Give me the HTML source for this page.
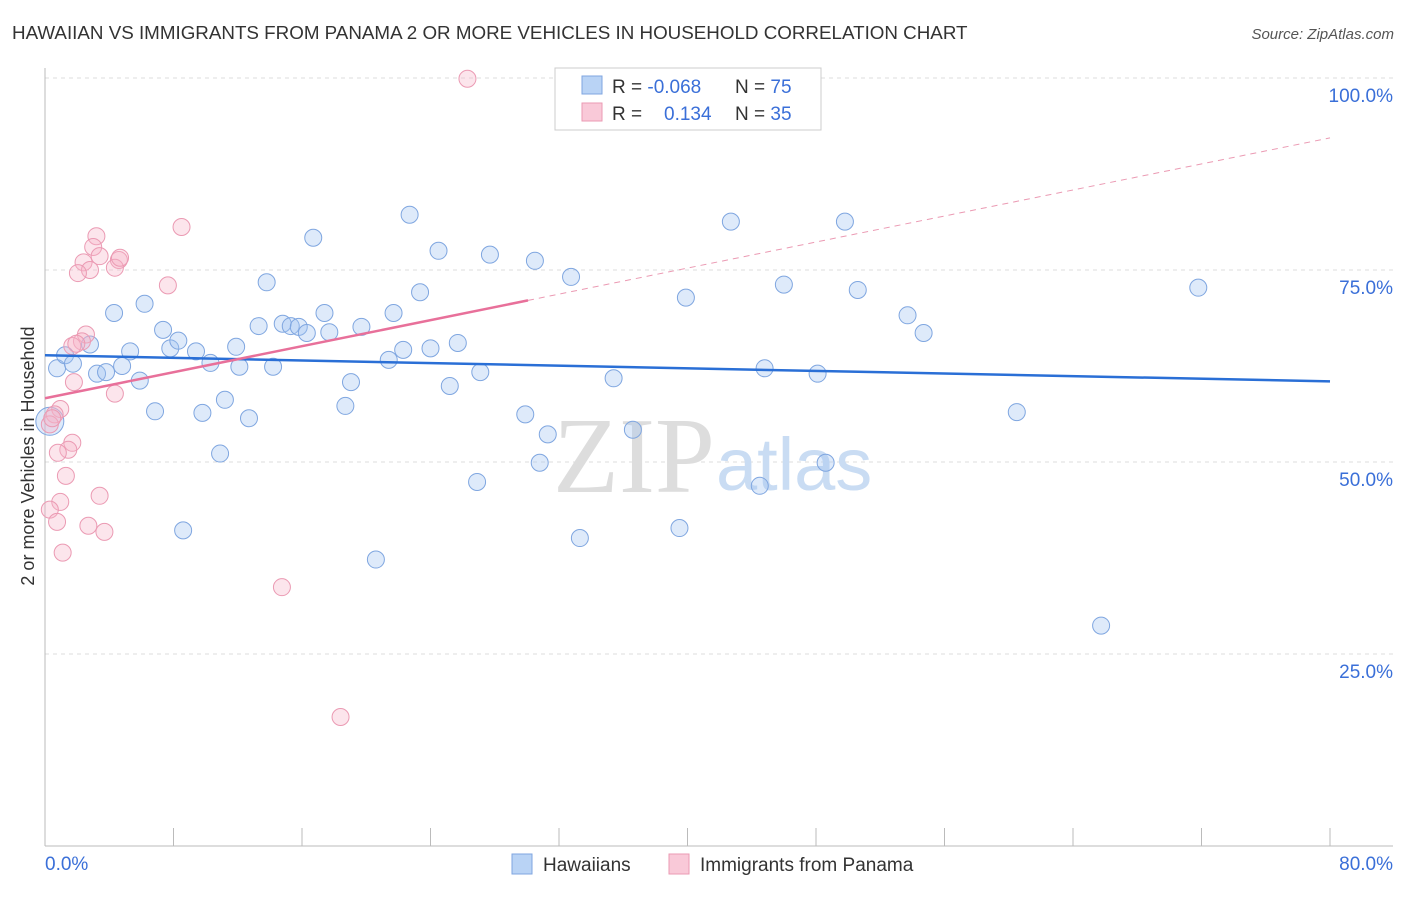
<!DOCTYPE html>
<html><head><meta charset="utf-8"><style>
body{margin:0;background:#fff;font-family:"Liberation Sans",sans-serif}
</style></head><body>
<svg width="1406" height="892" viewBox="0 0 1406 892" xmlns="http://www.w3.org/2000/svg">
<text x="12" y="39" font-size="18.8" fill="#333">HAWAIIAN VS IMMIGRANTS FROM PANAMA 2 OR MORE VEHICLES IN HOUSEHOLD CORRELATION CHART</text>
<text x="1394" y="39" font-size="15" fill="#555" font-style="italic" text-anchor="end">Source: ZipAtlas.com</text>
<g id="grid"></g>
<text x="715" y="492" font-size="108" fill="#ddd" text-anchor="end" font-family="Liberation Serif">ZIP</text>
<text x="716" y="490" font-size="74" fill="#c9dcf3">atlas</text>
<g id="pts"></g>
<g id="lines"></g>
<text transform="translate(34,456) rotate(-90)" font-size="18" fill="#333" text-anchor="middle">2 or more Vehicles in Household</text>
<text x="45" y="870" font-size="19" fill="#3a6fd8">0.0%</text>
<text x="1393" y="870" font-size="19" fill="#3a6fd8" text-anchor="end">80.0%</text>
<g>
<rect x="555" y="68" width="266" height="62" fill="#fff" stroke="#ccc"/>
<rect x="582" y="76" width="20" height="18" fill="#b9d3f5" stroke="#7fa6e0"/>
<rect x="582" y="103" width="20" height="18" fill="#f9c9d8" stroke="#eb9ab3"/>
<text x="612" y="93" font-size="19" fill="#333">R = <tspan fill="#3a6fd8">-0.068</tspan></text>
<text x="735" y="93" font-size="19" fill="#333">N = <tspan fill="#3a6fd8">75</tspan></text>
<text x="612" y="120" font-size="19" fill="#333">R = <tspan fill="#3a6fd8" x="664">0.134</tspan></text>
<text x="735" y="120" font-size="19" fill="#333">N = <tspan fill="#3a6fd8">35</tspan></text>
</g>
<g>
<rect x="512" y="854" width="20" height="20" fill="#b9d3f5" stroke="#7fa6e0"/>
<text x="543" y="871" font-size="19" fill="#333">Hawaiians</text>
<rect x="669" y="854" width="20" height="20" fill="#f9c9d8" stroke="#eb9ab3"/>
<text x="700" y="871" font-size="19" fill="#333">Immigrants from Panama</text>
</g>
</svg>
<script>
const yTicks=[25,50,75,100];
const yTickLabels=["25.0%","50.0%","75.0%","100.0%"];
const xTicks=[0,8,16,24,32,40,48,56,64,72,80];
const blueX=[0.75,1.25,1.74,2.8,3.24,3.8,4.3,4.8,5.3,5.9,6.2,6.85,7.35,7.8,8.3,8.6,9.4,9.8,10.3,10.9,11.2,11.9,12.1,12.7,13.3,13.8,14.2,14.8,15.3,15.8,16.3,16.7,17.4,17.7,18.7,19.05,19.7,20.6,21.4,21.7,22.3,22.7,23.35,24.0,24.5,25.2,25.7,27.1,26.9,27.7,29.9,30.5,30.8,31.3,32.75,33.3,35.4,36.6,39.5,39.9,42.7,44.5,44.8,46.0,48.1,48.6,49.8,50.6,53.7,54.7,60.5,65.75,71.8,0.3];
const blueY=[62.2,63.9,62.8,65.3,61.5,61.7,69.4,62.5,64.4,60.6,70.6,56.6,67.2,64.8,65.8,41.1,64.4,56.4,62.9,51.1,58.1,65.0,62.4,55.7,67.7,73.4,62.4,68.0,67.7,67.6,66.8,79.2,69.4,66.9,57.3,60.4,67.6,37.3,63.3,69.4,64.6,82.2,72.1,64.8,77.5,59.9,65.5,61.7,47.4,77.0,56.2,76.2,49.9,53.6,74.1,40.1,60.9,54.2,41.4,71.4,81.3,46.9,62.2,73.1,61.5,49.9,81.3,72.4,69.1,66.8,56.5,28.7,72.7,55.3];
const pinkX=[26.3,8.5,3.2,3.0,3.4,2.4,4.6,4.35,2.8,2.05,7.65,2.55,2.3,1.7,1.95,1.8,4.35,0.95,0.6,0.3,1.7,1.45,0.8,1.3,0.95,3.4,0.3,0.75,2.7,3.7,1.1,14.75,18.4,0.45,4.67];
const pinkY=[99.9,80.6,79.4,78.0,76.8,76.0,76.3,75.3,75.0,74.6,73.0,66.6,65.7,65.1,65.4,60.4,58.9,56.9,56.2,54.9,52.5,51.6,51.2,48.2,44.8,45.6,43.8,42.2,41.7,40.9,38.2,33.7,16.8,55.7,76.6];
const blueTrend=[63.9,60.5];
const pinkTrend=[58.3,92.2];
const pinkSolidEnd=30.07;
const NS="http://www.w3.org/2000/svg";
const X=v=>45+v*1285/80, Y=v=>846-v*7.68;
function mk(t,a,p){const e=document.createElementNS(NS,t);for(const k in a)e.setAttribute(k,a[k]);p.appendChild(e);return e;}
const g=document.getElementById('grid');
yTicks.forEach((t,i)=>{
 const l=mk('line',{x1:45,x2:1393,y1:Y(t),y2:Y(t),stroke:'#ddd','stroke-dasharray':'4,4'},g);
 
 
 const tx=mk('text',{x:1393,y:Y(t)+24,'font-size':19,fill:'#3a6fd8','text-anchor':'end'},g);
 tx.textContent=yTickLabels[i];
 
 
});
mk('line',{x1:45,x2:45,y1:68,y2:846,stroke:'#bbb'},g);
mk('line',{x1:45,x2:1393,y1:846,y2:846,stroke:'#bbb'},g);
xTicks.forEach(t=>{const l=mk('line',{x1:X(t),x2:X(t),y1:828,y2:846,stroke:'#bbb'},g);
 
 });
const p=document.getElementById('pts');
blueX.forEach((x,i)=>{const c=mk('circle',{cx:X(x),cy:Y(blueY[i]),r:i==blueX.length-1?14:8.5,fill:'rgba(160,195,240,0.35)',stroke:'#7fa6e0','stroke-width':1},p);
 
 });
pinkX.forEach((x,i)=>{const c=mk('circle',{cx:X(x),cy:Y(pinkY[i]),r:8.5,fill:'rgba(245,180,200,0.35)',stroke:'#eb9ab3','stroke-width':1},p);
 
 });
const L=document.getElementById('lines');
const bl=mk('line',{x1:X(0),y1:Y(blueTrend[0]),x2:X(80),y2:Y(blueTrend[1]),stroke:'#2a6fd6','stroke-width':2.5},L);


const pv=x=>pinkTrend[0]+(pinkTrend[1]-pinkTrend[0])*x/80;
const ps=mk('line',{x1:X(0),y1:Y(pv(0)),x2:X(pinkSolidEnd),y2:Y(pv(pinkSolidEnd)),stroke:'#e8709a','stroke-width':2.5},L);


const pd=mk('line',{x1:X(pinkSolidEnd),y1:Y(pv(pinkSolidEnd)),x2:X(80),y2:Y(pv(80)),stroke:'#eb9ab3','stroke-width':1,'stroke-dasharray':'6,5'},L);


</script>
</body></html>
